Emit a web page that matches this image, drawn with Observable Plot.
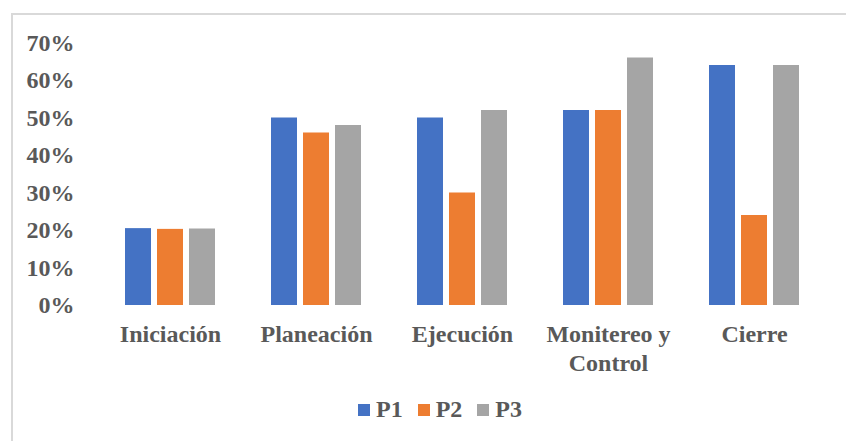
<!DOCTYPE html>
<html>
<head>
<meta charset="utf-8">
<script src="https://cdn.jsdelivr.net/npm/d3@7"></script>
<script src="https://cdn.jsdelivr.net/npm/@observablehq/plot@0.6"></script>
<style>
  body { margin: 0; background: #fff; }
  #wrap { position: relative; width: 846px; height: 441px; overflow: hidden; }
  #wrap, #wrap * { font-family: 'Liberation Serif', 'Times New Roman', serif !important; }
  #frame { position: absolute; left: 11px; top: 13px; width: 840px; height: 440px; border-top: 2px solid #d9d9d9; border-left: 2px solid #d9d9d9; box-sizing: border-box; }
  #chart { position: absolute; left: 0; top: 0; }
  #legend { position: absolute; left: 358px; top: 396px; display: flex; align-items: center; font-weight: bold; font-size: 24px; color: #595959; white-space: nowrap; }
  #legend .item { display: flex; align-items: center; margin-right: 15px; }
  #legend .sw { width: 12px; height: 12px; margin-right: 6px; }
</style>
</head>
<body>
<div id="wrap">
  <div id="frame"></div>
  <div id="chart"></div>
  <div id="legend"></div>
</div>
<script>
const categories = ["Iniciación", "Planeación", "Ejecución", "Monitereo y\nControl", "Cierre"];
const series = ["P1", "P2", "P3"];
const colors = ["#4472C4", "#ED7D31", "#A5A5A5"];
const p1 = [20.5, 50, 50, 52, 64];
const p2 = [20.3, 46, 30, 52, 24];
const p3 = [20.4, 48, 52, 66, 64];
const yTicks = [0, 10, 20, 30, 40, 50, 60, 70];

const valuesBySeries = [p1, p2, p3];
const data = [];
categories.forEach((c, i) => {
  series.forEach((s, j) => data.push({cat: c, s, v: valuesBySeries[j][i]}));
});

const serif = "'Liberation Serif', 'Times New Roman', serif";

const chart = Plot.plot({
  width: 846,
  height: 441,
  marginLeft: 97,
  marginRight: 19,
  marginTop: 42.5,
  marginBottom: 136,
  style: { fontFamily: serif, fontSize: "24px", fontWeight: "bold", color: "#595959", background: "transparent", overflow: "visible" },
  fx: { domain: categories, padding: 0, label: null },
  x: { domain: series, paddingInner: 0.2, paddingOuter: 0.846, axis: null, label: null },
  y: { domain: [0, 70], label: null },
  color: { domain: series, range: colors },
  marks: [
    Plot.gridY(yTicks, { stroke: "#d9d9d9", strokeOpacity: 1, strokeWidth: 2, facetAnchor: null, x1: 97, x2: 827 }),
    Plot.barY(data, { fx: "cat", x: "s", y: "v", fill: "s" }),
    Plot.axisY(yTicks, { tickSize: 0, tickPadding: 23, tickFormat: d => d + "%", fill: "#595959", fontSize: 24, fontWeight: "bold", fontFamily: serif }),
    Plot.axisFx({ anchor: "bottom", tickSize: 0, tickPadding: 16, fill: "#595959", fontSize: 24, fontWeight: "bold", fontFamily: serif, lineHeight: 1.2, label: null })
  ]
});
document.getElementById("chart").appendChild(chart);

const legend = document.getElementById("legend");
series.forEach((s, j) => {
  const it = document.createElement("div");
  it.className = "item";
  const sw = document.createElement("div");
  sw.className = "sw";
  sw.style.background = colors[j];
  const t = document.createElement("span");
  t.textContent = s;
  it.appendChild(sw); it.appendChild(t);
  legend.appendChild(it);
});
</script>
</body>
</html>
